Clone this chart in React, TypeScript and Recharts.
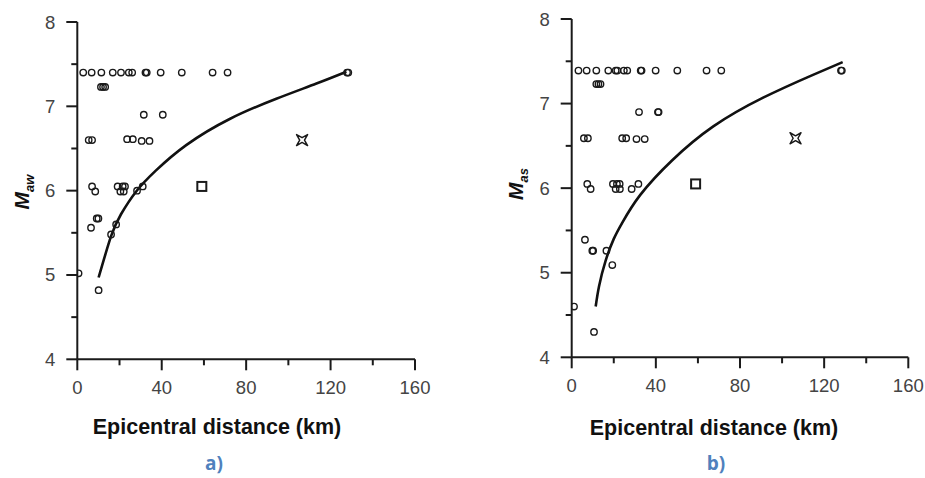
import React from 'react';
import { ComposedChart, Scatter, Line, XAxis, YAxis } from 'recharts';

// ---- Panel a) Maw ----
const aCircles = [
  { x: 2.8, y: 7.4 }, { x: 6.8, y: 7.4 }, { x: 11.4, y: 7.4 }, { x: 16.8, y: 7.4 }, { x: 20.7, y: 7.4 },
  { x: 24.4, y: 7.4 }, { x: 26, y: 7.4 }, { x: 32.3, y: 7.4 }, { x: 32.9, y: 7.4 }, { x: 39.5, y: 7.4 },
  { x: 49.5, y: 7.4 }, { x: 64.1, y: 7.4 }, { x: 71.2, y: 7.4 }, { x: 127.8, y: 7.4 }, { x: 128.4, y: 7.4 },
  { x: 11.2, y: 7.23 }, { x: 12.2, y: 7.23 }, { x: 13.2, y: 7.23 },
  { x: 31.5, y: 6.9 }, { x: 40.5, y: 6.9 },
  { x: 5.4, y: 6.6 }, { x: 7, y: 6.6 }, { x: 23.6, y: 6.61 }, { x: 26.3, y: 6.61 }, { x: 30.5, y: 6.59 }, { x: 34.2, y: 6.59 },
  { x: 7, y: 6.05 }, { x: 8.5, y: 5.99 }, { x: 19.1, y: 6.05 }, { x: 21.5, y: 6.05 }, { x: 22.6, y: 6.05 },
  { x: 20.4, y: 5.99 }, { x: 22, y: 5.99 }, { x: 28.3, y: 6.0 }, { x: 31, y: 6.05 },
  { x: 9.2, y: 5.67 }, { x: 10, y: 5.67 }, { x: 6.5, y: 5.56 }, { x: 18.4, y: 5.6 }, { x: 16, y: 5.48 },
  { x: 0.6, y: 5.02 }, { x: 10.1, y: 4.82 },
];
const aSquare = [{ x: 59, y: 6.05 }];
const aStar = [{ x: 106.5, y: 6.6 }];
const aCurve = [
  { x: 10.1, y: 4.97 }, { x: 16, y: 5.46 }, { x: 20.7, y: 5.72 }, { x: 27.9, y: 5.99 }, { x: 37.3, y: 6.24 },
  { x: 51.6, y: 6.54 }, { x: 72.2, y: 6.85 }, { x: 94.3, y: 7.09 }, { x: 113.3, y: 7.27 }, { x: 127.5, y: 7.41 },
];

// ---- Panel b) Mas ----
const bCircles = [
  { x: 3.2, y: 7.39 }, { x: 7.1, y: 7.39 }, { x: 11.7, y: 7.39 }, { x: 17.4, y: 7.39 }, { x: 20.9, y: 7.39 },
  { x: 21.7, y: 7.39 }, { x: 24.8, y: 7.39 }, { x: 26.4, y: 7.39 }, { x: 32.8, y: 7.39 }, { x: 33.2, y: 7.39 },
  { x: 39.9, y: 7.39 }, { x: 50.2, y: 7.39 }, { x: 64.1, y: 7.39 }, { x: 71.1, y: 7.39 }, { x: 128, y: 7.39 }, { x: 128.4, y: 7.39 },
  { x: 11.7, y: 7.23 }, { x: 12.7, y: 7.23 }, { x: 13.7, y: 7.23 },
  { x: 32, y: 6.9 }, { x: 41, y: 6.9 }, { x: 41.3, y: 6.9 },
  { x: 5.8, y: 6.59 }, { x: 7.7, y: 6.59 }, { x: 24, y: 6.59 }, { x: 25.9, y: 6.59 }, { x: 30.8, y: 6.58 }, { x: 34.7, y: 6.58 },
  { x: 7.4, y: 6.05 }, { x: 9, y: 5.99 }, { x: 19.6, y: 6.05 }, { x: 21.5, y: 6.05 }, { x: 22.8, y: 6.05 },
  { x: 20.9, y: 5.99 }, { x: 22.9, y: 5.99 }, { x: 28.5, y: 5.99 }, { x: 31.7, y: 6.05 },
  { x: 6.3, y: 5.39 }, { x: 9.8, y: 5.26 }, { x: 10.2, y: 5.26 }, { x: 16.5, y: 5.26 }, { x: 19.3, y: 5.09 },
  { x: 1.1, y: 4.6 }, { x: 10.6, y: 4.3 },
];
const bSquare = [{ x: 58.9, y: 6.05 }];
const bStar = [{ x: 106.4, y: 6.59 }];
const bCurve = [
  { x: 11.4, y: 4.6 }, { x: 13, y: 4.84 }, { x: 16.1, y: 5.14 }, { x: 20, y: 5.4 }, { x: 24, y: 5.59 },
  { x: 32.6, y: 5.92 }, { x: 47.8, y: 6.33 }, { x: 67.3, y: 6.73 }, { x: 91, y: 7.07 }, { x: 114.7, y: 7.34 }, { x: 128.8, y: 7.49 },
];

const xTicks = [0, 20, 40, 60, 80, 100, 120, 140, 160];
const yTicks = [4, 4.5, 5, 5.5, 6, 6.5, 7, 7.5, 8];

const FONT = '"Liberation Sans", Arial, sans-serif';
const INK = '#1a1a1a';

const XTick = (props: any) => {
  const { x, y, payload } = props;
  const major = payload.value % 40 === 0;
  return (
    <g>
      <line x1={x} x2={x} y1={y} y2={y + (major ? 11 : 6)} stroke={INK} strokeWidth={2} />
      {major && (
        <text x={x} y={y + 28} textAnchor="middle" dominantBaseline="central" fontSize={18.5} fill="#444" fontFamily={FONT}>
          {payload.value}
        </text>
      )}
    </g>
  );
};

const YTick = (props: any) => {
  const { x, y, payload } = props;
  const major = Number.isInteger(payload.value);
  return (
    <g>
      <line x1={x - (major ? 11 : 6)} x2={x} y1={y} y2={y} stroke={INK} strokeWidth={2} />
      {major && (
        <text x={x - 22} y={y} textAnchor="end" dominantBaseline="central" fontSize={18.5} fill="#444" fontFamily={FONT}>
          {payload.value}
        </text>
      )}
    </g>
  );
};

const CircleShape = (p: any) => (
  <circle cx={p.cx} cy={p.cy} r={3.2} fill="none" stroke={INK} strokeWidth={1.4} />
);
const SquareShape = (p: any) => (
  <rect x={p.cx - 4.5} y={p.cy - 4.5} width={9} height={9} fill="none" stroke={INK} strokeWidth={2} />
);
const StarShape = (p: any) => {
  const { cx, cy } = p;
  const r = 5.5, i = 2.4;
  const d = `M${cx - r},${cy - r} L${cx},${cy - i} L${cx + r},${cy - r} L${cx + i},${cy} L${cx + r},${cy + r} L${cx},${cy + i} L${cx - r},${cy + r} L${cx - i},${cy} Z`;
  return <path d={d} fill="none" stroke={INK} strokeWidth={1.5} strokeLinejoin="round" />;
};

type PanelProps = {
  circles: { x: number; y: number }[];
  square: { x: number; y: number }[];
  star: { x: number; y: number }[];
  curve: { x: number; y: number }[];
  margin: { top: number; right: number; bottom: number; left: number };
};

const Panel = ({ circles, square, star, curve, margin }: PanelProps) => (
  <ComposedChart width={440} height={400} margin={margin}>
    <XAxis
      type="number"
      dataKey="x"
      domain={[0, 160]}
      ticks={xTicks}
      interval={0}
      allowDataOverflow
      tickSize={0}
      tickMargin={0}
      tick={<XTick />}
      axisLine={{ stroke: INK, strokeWidth: 2 }}
      height={30}
    />
    <YAxis
      type="number"
      dataKey="y"
      domain={[4, 8]}
      ticks={yTicks}
      interval={0}
      allowDataOverflow
      tickSize={0}
      tickMargin={0}
      tick={<YTick />}
      axisLine={{ stroke: INK, strokeWidth: 2 }}
      width={60}
    />
    <Scatter data={circles} dataKey="y" shape={<CircleShape />} isAnimationActive={false} />
    <Scatter data={square} dataKey="y" shape={<SquareShape />} isAnimationActive={false} />
    <Scatter data={star} dataKey="y" shape={<StarShape />} isAnimationActive={false} />
    <Line
      data={curve}
      dataKey="y"
      type="natural"
      stroke="#111"
      strokeWidth={2.6}
      dot={false}
      activeDot={false}
      isAnimationActive={false}
    />
  </ComposedChart>
);

const titleStyle: React.CSSProperties = {
  position: 'absolute',
  fontFamily: FONT,
  fontWeight: 'bold',
  fontSize: 21.5,
  color: '#111',
  whiteSpace: 'nowrap',
  transform: 'translate(-50%, -50%)',
};
const subStyle: React.CSSProperties = {
  position: 'absolute',
  fontFamily: '"Open Sans", "Liberation Sans", Arial, sans-serif',
  fontWeight: 'bold',
  fontSize: 19,
  color: '#4f81bd',
  transform: 'translate(-50%, -50%)',
};
const yLabelStyle: React.CSSProperties = {
  position: 'absolute',
  fontFamily: FONT,
  fontWeight: 'bold',
  fontStyle: 'italic',
  fontSize: 21,
  color: '#111',
  whiteSpace: 'nowrap',
  transform: 'translate(-50%, -50%) rotate(-90deg)',
};

export default function App() {
  return (
    <div style={{ position: 'fixed', left: 0, top: 0, width: 925, height: 478, background: '#fff', overflow: 'hidden' }}>
      <div style={{ position: 'absolute', left: 0, top: 0 }}>
        <Panel circles={aCircles} square={aSquare} star={aStar} curve={aCurve} margin={{ top: 22, right: 25, bottom: 10.7, left: 17.3 }} />
      </div>
      <div style={{ position: 'absolute', left: 494, top: 0 }}>
        <Panel circles={bCircles} square={bSquare} star={bStar} curve={bCurve} margin={{ top: 19, right: 25.7, bottom: 12.7, left: 17.7 }} />
      </div>
      <div style={{ ...yLabelStyle, left: 22, top: 192 }}>
        M<span style={{ fontSize: 13, position: 'relative', top: 5 }}>aw</span>
      </div>
      <div style={{ ...yLabelStyle, left: 516, top: 184 }}>
        M<span style={{ fontSize: 13, position: 'relative', top: 5 }}>as</span>
      </div>
      <div style={{ ...titleStyle, left: 217, top: 427 }}>Epicentral distance (km)</div>
      <div style={{ ...titleStyle, left: 714, top: 428 }}>Epicentral distance (km)</div>
      <div style={{ ...subStyle, left: 214, top: 463 }}>a)</div>
      <div style={{ ...subStyle, left: 716, top: 463 }}>b)</div>
    </div>
  );
}
